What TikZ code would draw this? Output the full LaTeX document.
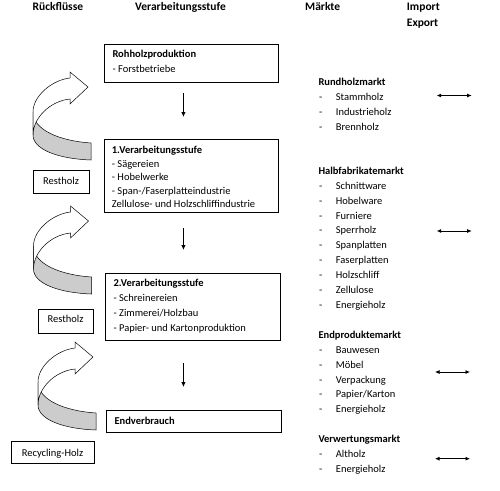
\documentclass[tikz,border=0pt]{standalone}
\usepackage{fontspec}
\setmainfont{Carlito}
\usetikzlibrary{arrows.meta}
\begin{document}
\begin{tikzpicture}[x=1pt,y=-1pt,
  box/.style={draw, line width=0.9pt, inner sep=0pt, anchor=north west},
  txt/.style={anchor=base west, inner sep=0pt, font=\fontsize{10.5}{12}\selectfont},
  hd/.style={anchor=base west, inner sep=0pt, font=\fontsize{10.5}{12}\selectfont\bfseries},
  colhd/.style={anchor=base west, inner sep=0pt, font=\fontsize{11.5}{13}\selectfont\bfseries},
  ctxt/.style={anchor=base, inner sep=0pt, font=\fontsize{10.5}{12}\selectfont},
  flow/.style={line width=0.8pt, -{Latex[length=5pt,width=4.5pt]}},
  dbl/.style={line width=0.8pt, {Latex[length=4.5pt,width=4pt]}-{Latex[length=4.5pt,width=4pt]}},
  ribbon/.pic={
    \filldraw[fill=gray!40, line width=0.5pt]
      (33,112) .. controls (33,130) and (60,141) .. (91,143)
      -- (91,160) .. controls (60,159) and (33,150) .. (33,135) -- cycle;
    \filldraw[fill=white, line width=0.5pt]
      (70,78) .. controls (52,80) and (33,96) .. (33,112)
      -- (33,135) .. controls (33,118) and (50,101) .. (70,99)
      -- (70,104) -- (88,87) -- (70,72) -- cycle;
  }
]
\useasboundingbox (0,0) rectangle (500,490);

% headers
\node[colhd] (h1) at (32.5,10) {Rückflüsse};
\node[colhd] (h2) at (135,10) {Verarbeitungsstufe};
\node[colhd] (h3) at (305,10) {Märkte};
\node[colhd] (h4) at (406.7,10) {Import};
\node[colhd] (h5) at (406.7,26.5) {Export};

% processing boxes
\node[box, minimum width=174pt, minimum height=38pt] (b0) at (104,44) {};
\node[box, minimum width=174pt, minimum height=73pt] (b1) at (104,139) {};
\node[box, minimum width=175pt, minimum height=67pt] (b2) at (105,273) {};
\node[box, minimum width=175pt, minimum height=22pt] (b3) at (106,410) {};

\node[hd]  (t01) at (112.3,57.3) {Rohholzproduktion};
\node[txt] (t02) at (112.3,72.7) {- Forstbetriebe};

\node[hd]  (t11) at (111.7,153.3) {1.Verarbeitungsstufe};
\node[txt] (t12) at (111.7,167.3) {- Sägereien};
\node[txt] (t13) at (111.7,180.7) {- Hobelwerke};
\node[txt] (t14) at (111.7,194) {- Span-/Faserplatteindustrie};
\node[txt] (t15) at (111.7,207.3) {Zellulose- und Holzschliffindustrie};

\node[hd]  (t21) at (113.3,286.7) {2.Verarbeitungsstufe};
\node[txt] (t22) at (113.3,301.7) {- Schreinereien};
\node[txt] (t23) at (113.3,316) {- Zimmerei/Holzbau};
\node[txt] (t24) at (113.3,331) {- Papier- und Kartonproduktion};

\node[hd]  (t31) at (114.3,424) {Endverbrauch};

% flow arrows
\draw[flow] ([xshift=-8pt,yshift=-10pt]b0.south) -- ([xshift=-8pt,yshift=22pt]b1.north);
\draw[flow] ([xshift=-8pt,yshift=-15pt]b1.south) -- ([xshift=-9.5pt,yshift=23pt]b2.north);
\draw[flow] ([xshift=-9.5pt,yshift=-22pt]b2.south) -- ([xshift=-10.5pt,yshift=23pt]b3.north);

% return ribbons
\pic (r1) at (0,0) {ribbon};
\pic (r2) at (0.5,134) {ribbon};
\pic (r3) at (5,270) {ribbon};

% side boxes
\node[box, minimum width=56pt, minimum height=23pt] (s1) at (33,170) {};
\node[ctxt] (s1t) at (61,184) {Restholz};
\node[box, minimum width=55pt, minimum height=24pt] (s2) at (38,309) {};
\node[ctxt] (s2t) at (65.5,322.7) {Restholz};
\node[box, minimum width=83pt, minimum height=22pt] (s3) at (11,441) {};
\node[ctxt] (s3t) at (52.5,456) {Recycling-Holz};

% markets
\node[hd] (m1) at (318.3,85.5) {Rundholzmarkt};
\foreach \n/\y/\t in {1/100.5/Stammholz, 2/115.4/Industrieholz, 3/130.3/Brennholz}{
  \node[txt] (m1d\n) at (319,\y) {-};
  \node[txt] (m1i\n) at (335.7,\y) {\t};
}
\node[hd] (m2) at (318.3,174.3) {Halbfabrikatemarkt};
\foreach \n/\y/\t in {1/189.2/Schnittware, 2/204.1/Hobelware, 3/219/Furniere, 4/233.9/Sperrholz, 5/248.8/Spanplatten, 6/263.7/Faserplatten, 7/278.6/Holzschliff, 8/293.5/Zellulose, 9/308.4/Energieholz}{
  \node[txt] (m2d\n) at (319,\y) {-};
  \node[txt] (m2i\n) at (335.7,\y) {\t};
}
\node[hd] (m3) at (318.3,338.3) {Endproduktemarkt};
\foreach \n/\y/\t in {1/353.2/Bauwesen, 2/368.1/Möbel, 3/383/Verpackung, 4/397.9/{Papier/Karton}, 5/412.8/Energieholz}{
  \node[txt] (m3d\n) at (319,\y) {-};
  \node[txt] (m3i\n) at (335.7,\y) {\t};
}
\node[hd] (m4) at (318.3,442.3) {Verwertungsmarkt};
\foreach \n/\y/\t in {1/457.2/Altholz, 2/472.1/Energieholz}{
  \node[txt] (m4d\n) at (319,\y) {-};
  \node[txt] (m4i\n) at (335.7,\y) {\t};
}

% import/export arrows
\coordinate (e1a) at (436.7,95.5);  \coordinate (e1b) at (471.7,95.5);
\coordinate (e2a) at (436.7,231);   \coordinate (e2b) at (471.7,231);
\coordinate (e3a) at (435,372);     \coordinate (e3b) at (470,372);
\coordinate (e4a) at (435,458.7);   \coordinate (e4b) at (470,458.7);
\draw[dbl] (e1a) -- (e1b);
\draw[dbl] (e2a) -- (e2b);
\draw[dbl] (e3a) -- (e3b);
\draw[dbl] (e4a) -- (e4b);
\end{tikzpicture}
\end{document}
